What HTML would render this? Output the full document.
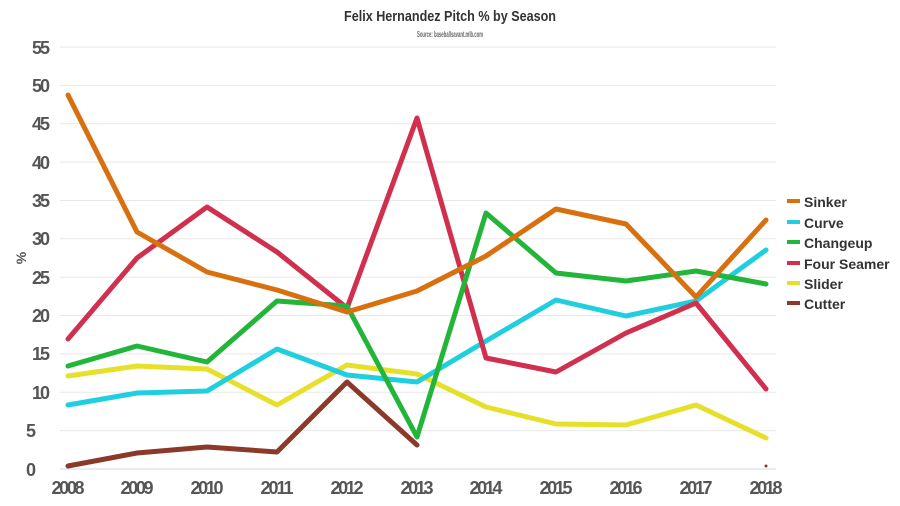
<!DOCTYPE html>
<html><head><style>
html,body{margin:0;padding:0;background:#fff;}
svg{display:block;font-family:"Liberation Sans Narrow","Liberation Sans",sans-serif;}
</style></head><body>
<svg width="900" height="506" viewBox="0 0 900 506">
<text x="450" y="21" text-anchor="middle" font-size="15" font-weight="bold" fill="#333" textLength="212" lengthAdjust="spacingAndGlyphs">Felix Hernandez Pitch % by Season</text>
<text x="450" y="37" text-anchor="middle" font-size="8.5" font-weight="bold" fill="#666" textLength="66" lengthAdjust="spacingAndGlyphs">Source: baseballsavant.mlb.com</text>
<g stroke="#e8e8e8" stroke-width="1">
<line x1="60" x2="776" y1="47" y2="47"/><line x1="60" x2="776" y1="85.4" y2="85.4"/>
<line x1="60" x2="776" y1="123.7" y2="123.7"/><line x1="60" x2="776" y1="162.1" y2="162.1"/>
<line x1="60" x2="776" y1="200.5" y2="200.5"/><line x1="60" x2="776" y1="238.8" y2="238.8"/>
<line x1="60" x2="776" y1="277.2" y2="277.2"/><line x1="60" x2="776" y1="315.5" y2="315.5"/>
<line x1="60" x2="776" y1="353.9" y2="353.9"/><line x1="60" x2="776" y1="392.3" y2="392.3"/>
<line x1="60" x2="776" y1="430.6" y2="430.6"/>
</g>
<line x1="60" x2="776" y1="469" y2="469" stroke="#d0d8e0" stroke-width="1"/>
<g font-size="18" font-weight="bold" fill="#555" text-anchor="end" lengthAdjust="spacingAndGlyphs">
<text x="50" y="54" textLength="18">55</text><text x="50" y="92" textLength="18">50</text><text x="50" y="130" textLength="18">45</text>
<text x="50" y="169" textLength="18">40</text><text x="50" y="207" textLength="18">35</text><text x="50" y="245" textLength="18">30</text>
<text x="50" y="284" textLength="18">25</text><text x="50" y="322" textLength="18">20</text><text x="50" y="360" textLength="18">15</text>
<text x="50" y="399" textLength="18">10</text><text x="36" y="437" textLength="9">5</text><text x="36" y="476" textLength="9">0</text>
</g>
<text x="26" y="258" font-size="14" font-weight="bold" fill="#555" transform="rotate(-90 26 258)" text-anchor="middle">%</text>
<g font-size="18" font-weight="bold" fill="#555" text-anchor="middle" lengthAdjust="spacingAndGlyphs">
<text x="68" y="494" textLength="33">2008</text><text x="137" y="494" textLength="33">2009</text><text x="207" y="494" textLength="33">2010</text>
<text x="277" y="494" textLength="33">2011</text><text x="347" y="494" textLength="33">2012</text><text x="417" y="494" textLength="33">2013</text>
<text x="486" y="494" textLength="33">2014</text><text x="556" y="494" textLength="33">2015</text><text x="626" y="494" textLength="33">2016</text>
<text x="696" y="494" textLength="33">2017</text><text x="766" y="494" textLength="33">2018</text>
</g>
<g fill="none" stroke-width="5" stroke-linejoin="round" stroke-linecap="round">
<polyline stroke="#e6e02a" points="68,376 137,366 207,369 277,405 347,365 417,374 486,407 556,424 626,425 696,405 766,438"/>
<polyline stroke="#8b3a2a" points="68,466 137,453 207,447 277,452 347,382 417,445"/>
<polyline stroke="#1fcfe0" points="68,405 137,393 207,391 277,349 347,375 417,382 486,341 556,300 626,316 696,301 766,250"/>
<polyline stroke="#d0304e" points="68,339 137,258 207,207 277,252 347,308 417,118 486,358 556,372 626,333 696,303 766,389"/>
<polyline stroke="#22b53a" points="68,366 137,346 207,362 277,301 347,306 417,437 486,213 556,273 626,281 696,271 766,284"/>
<polyline stroke="#d9700f" points="68,95 137,232 207,272 277,290 347,312 417,291 486,256 556,209 626,224 696,297 766,220"/>
</g>
<circle cx="766" cy="466" r="1.5" fill="#8b3a2a"/>
<g font-size="14" font-weight="bold" fill="#333">
<rect x="787" y="199" width="13" height="4" fill="#d9700f"/><text x="804" y="207">Sinker</text>
<rect x="787" y="220" width="13" height="4" fill="#1fcfe0"/><text x="804" y="228">Curve</text>
<rect x="787" y="240" width="13" height="4" fill="#22b53a"/><text x="804" y="248">Changeup</text>
<rect x="787" y="261" width="13" height="4" fill="#d0304e"/><text x="804" y="269">Four Seamer</text>
<rect x="787" y="281" width="13" height="4" fill="#e6e02a"/><text x="804" y="289">Slider</text>
<rect x="787" y="301" width="13" height="4" fill="#8b3a2a"/><text x="804" y="309">Cutter</text>
</g>
</svg>
</body></html>
